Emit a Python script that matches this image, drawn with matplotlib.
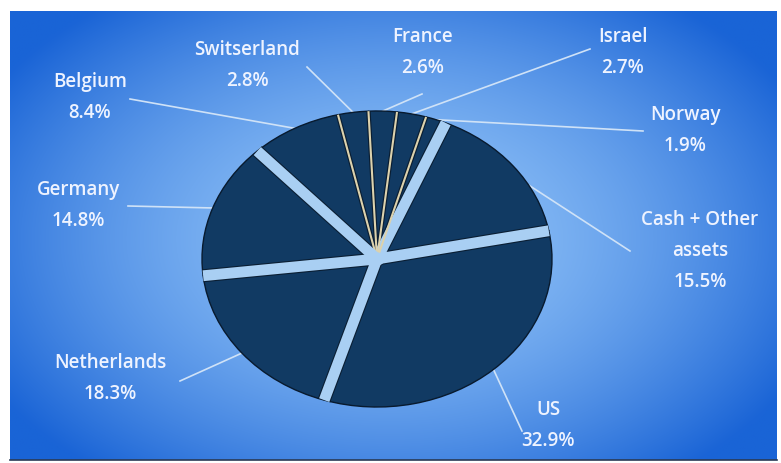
import numpy as np
import matplotlib
matplotlib.use("Agg")
import matplotlib.pyplot as plt
from matplotlib.patches import Ellipse

# Portfolio split by country (percent of assets), listed counter-clockwise
countries = ["Cash + Other\nassets", "Norway", "Israel", "France", "Switserland",
             "Belgium", "Germany", "Netherlands", "US"]
shares = [15.5, 1.9, 2.7, 2.6, 2.8, 8.4, 14.8, 18.3, 32.9]

# boundary style at the start of each wedge: wide light gap or thin rule
wide_gap = [True, True, False, False, False, False, True, True, True]

# label text anchors (pixel coords of the first line centre) and leader ends
label_xy = [(700, 220), (685, 115), (623, 37), (423, 37), (247, 50),
            (90, 82), (78, 190), (110, 363), (548, 410)]
leader_end = [(630, 252), (643, 132), (590, 50), (422, 95), (307, 68),
              (130, 100), (128, 207), (180, 382), (522, 432)]
leader_frac = [0.34, 0.5, 0.5, 0.5, 0.5, 0.5, 0.5, 0.5, 0.5]

W, H = 781, 464
fig = plt.figure(figsize=(W / 100, H / 100), dpi=100, facecolor="white")

# ---- background panel with a soft radial blue gradient
ax_bg = fig.add_axes([0, 0, 1, 1])
ax_bg.set_xlim(0, W)
ax_bg.set_ylim(H, 0)
ax_bg.axis("off")

x0, x1, y0, y1 = 10, 777, 12, 461
xx, yy = np.meshgrid(np.linspace(x0, x1, 400), np.linspace(y0, y1, 240))
cx, cy, rx, ry = 390, 240, 460, 300
t = np.clip(np.sqrt(((xx - cx) / rx) ** 2 + ((yy - cy) / ry) ** 2), 0, 1) ** 1.6
c_in = np.array([145, 195, 248]) / 255
c_out = np.array([26, 100, 214]) / 255
img = c_in[None, None, :] + (c_out - c_in)[None, None, :] * t[..., None]
ax_bg.imshow(img, extent=(x0, x1, y1, y0), aspect="auto", interpolation="bilinear",
             zorder=0)
ax_bg.plot([x0, x1], [y1, y1], color="#2a3a55", lw=1.2, zorder=1)

# ---- elliptical pie
pcx, pcy, pa, pb = 377, 260, 175, 148
ax_pie = fig.add_axes([(pcx - pa) / W, 1 - (pcy + pb) / H, 2 * pa / W, 2 * pb / H])
wedges, _ = ax_pie.pie(shares, startangle=11, counterclock=True, radius=1,
                       colors=["#113a63"] * len(shares),
                       wedgeprops=dict(edgecolor="#081a2e", linewidth=1.0))
ax_pie.set_aspect("auto")
ax_pie.set_xlim(-1, 1)
ax_pie.set_ylim(-1, 1)
ax_pie.axis("off")

for w, wide in zip(wedges, wide_gap):
    th = np.deg2rad(w.theta1)
    xs, ys = [0, np.cos(th)], [0, np.sin(th)]
    if wide:
        ax_pie.plot(xs, ys, color="#0a1e33", lw=9.4, solid_capstyle="butt", zorder=3)
        ax_pie.plot(xs, ys, color="#a9cff3", lw=7.8, solid_capstyle="butt", zorder=4)
    else:
        ax_pie.plot(xs, ys, color="#0a1e33", lw=3.2, solid_capstyle="butt", zorder=3)
        ax_pie.plot(xs, ys, color="#dcd2ad", lw=1.5, solid_capstyle="butt", zorder=4)
ax_pie.add_patch(Ellipse((0, 0), 0.08, 0.08, color="#a9cff3", zorder=5))

# ---- labels and leader lines
fig.canvas.draw()
to_bg = ax_bg.transData.inverted()
text_kw = dict(color="#eef3ff", fontsize=13.5, fontfamily="Open Sans",
               fontweight="semibold", ha="center", va="center")
for w, name, v, (lx, ly), end, frac in zip(wedges, countries, shares, label_xy,
                                           leader_end, leader_frac):
    ang = np.deg2rad(w.theta1 + frac * (w.theta2 - w.theta1))
    px, py = to_bg.transform(ax_pie.transData.transform((np.cos(ang), np.sin(ang))))
    ax_bg.plot([px, end[0]], [py, end[1]], color="#cfe2f7", lw=1.2, zorder=2)
    lines = name.split("\n") + [f"{v:.1f}%"]
    for i, s in enumerate(lines):
        ax_bg.text(lx, ly + 31 * i, s, zorder=3, **text_kw)

fig.savefig("out.png", dpi=100, facecolor="white")
